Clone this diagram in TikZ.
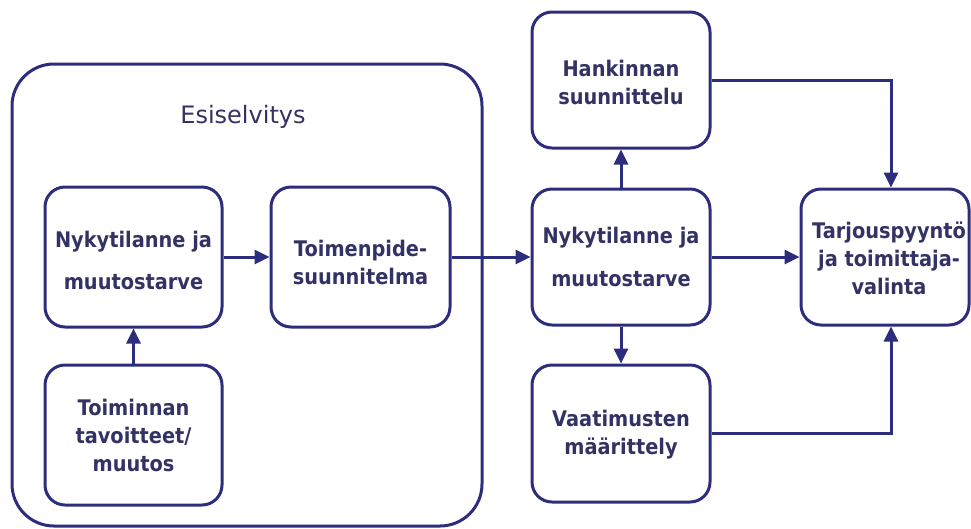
\documentclass[tikz,border=0pt]{standalone}
\usepackage{fontspec}
\setmainfont{DejaVu Sans}[FakeStretch=0.9]
\newfontfamily\titlefont{DejaVu Sans}
\usetikzlibrary{arrows.meta}
\definecolor{ln}{RGB}{45,45,125}
\definecolor{tx}{RGB}{50,50,100}
\tikzset{
  box/.style={draw=ln, line width=3pt, rounded corners=20pt, minimum width=#1, inner sep=0pt},
  lbl/.style={text=tx, font=\bfseries\fontsize{21.5}{28}\selectfont, align=center},
  conn/.style={draw=ln, line width=3pt, -{Triangle[length=15pt,width=14pt]}}
}
\begin{document}
\begin{tikzpicture}[x=1pt,y=-1pt]
\useasboundingbox (0,0) rectangle (971,528);
% outer
\node[draw=ln, line width=3pt, rounded corners=42pt, minimum width=470pt, minimum height=462pt, inner sep=0pt] (outer) at (247,295) {};
\node[text=tx, font=\titlefont\fontsize{24}{28}\selectfont] (title) at (243,117) {Esiselvitys};
% left boxes
\node[box=177pt, minimum height=140pt] (a) at (133.5,257) {};
\node[lbl, font=\bfseries\fontsize{21.5}{42}\selectfont] (at) at (133.5,260) {Nykytilanne ja\\muutostarve};
\node[box=179pt, minimum height=140pt] (b) at (360.5,257) {};
\node[lbl] (bt) at (360.5,262) {Toimenpide-\\suunnitelma};
\node[box=177pt, minimum height=140pt] (c) at (133.5,435) {};
\node[lbl] (ct) at (c) {Toiminnan\\tavoitteet/\\muutos};
% right boxes
\node[box=178pt, minimum height=136pt] (h) at (621,80) {};
\node[lbl] (ht) at (621,82) {Hankinnan\\suunnittelu};
\node[box=178pt, minimum height=136pt] (m) at (621,257) {};
\node[lbl, font=\bfseries\fontsize{21.5}{43}\selectfont] (mt) at (m) {Nykytilanne ja\\muutostarve};
\node[box=178pt, minimum height=137pt] (v) at (621,433.5) {};
\node[lbl] (vt) at (621,435) {Vaatimusten\\määrittely};
\node[box=168pt, minimum height=136pt] (t) at (885,257) {};
\node[lbl] (tt) at (889,258) {Tarjouspyyntö\\ja toimittaja-\\valinta};
% connectors
\draw[conn] (c) -- (a);
\draw[conn] (a) -- (b);
\draw[conn] (b) -- (m);
\draw[conn] (m) -- (h);
\draw[conn] (m) -- (v);
\draw[conn] (m) -- (t);
\draw[conn] (h.east) -| ([xshift=6pt]t.north);
\draw[conn] (v.east) -| ([xshift=6pt]t.south);
\end{tikzpicture}
\end{document}
